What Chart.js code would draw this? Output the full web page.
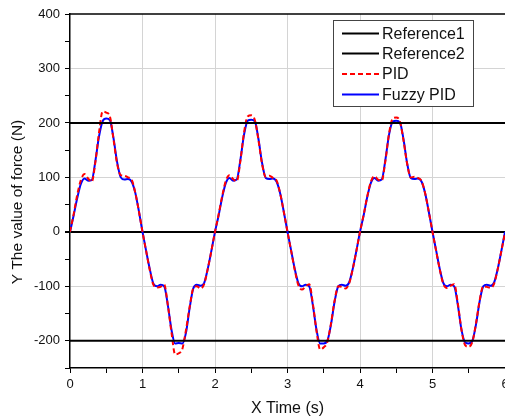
<!DOCTYPE html>
<html>
<head>
<meta charset="utf-8">
<script src="https://cdn.jsdelivr.net/npm/chart.js@4/dist/chart.umd.min.js"></script>
<style>
  html, body { margin: 0; padding: 0; background: #fff; }
  #wrap { width: 505px; height: 418px; position: relative; }
</style>
</head>
<body>
<div id="wrap"><canvas id="chart"></canvas></div>
<script>
// Tiempo (s), paso de 0.05
const times = [];
for (let i = 0; i <= 120; i++) times.push(+(i * 0.05).toFixed(2));

// Lineas de referencia
const reference1 = 200;
const reference2 = -200;

// PID (rojo, discontinua)
const pidValues = [
  0, 32, 68, 95, 106, 98, 92, 128, 182, 221, 219, 212, 170, 125, 104, 103, 100, 96, 72, 38,
  0, -35, -70, -97, -102, -101, -97, -135, -185, -225, -223, -215, -180, -138, -104, -100, -104, -96, -68, -35,
  0, 32, 66, 94, 104, 97, 93, 130, 182, 212, 214, 205, 168, 124, 101, 103, 99, 94, 70, 36,
  0, -35, -70, -98, -106, -100, -96, -132, -182, -216, -212, -202, -168, -126, -100, -101, -104, -95, -68, -35,
  0, 31, 65, 92, 102, 96, 94, 130, 180, 208, 210, 203, 168, 125, 100, 101, 99, 93, 70, 36,
  0, -35, -69, -96, -103, -99, -96, -132, -180, -208, -211, -202, -168, -126, -100, -101, -103, -95, -68, -35,
  -2
];

// Fuzzy PID (azul)
const fuzzyValues = [
  0, 30, 62, 88, 98, 94, 95, 130, 175, 203, 208, 205, 172, 128, 100, 96, 97, 92, 72, 38,
  0, -35, -68, -95, -100, -97, -100, -135, -180, -205, -204, -205, -185, -140, -104, -97, -99, -94, -68, -35,
  0, 30, 64, 90, 99, 94, 96, 132, 178, 204, 206, 203, 170, 126, 99, 97, 98, 92, 70, 36,
  0, -34, -68, -94, -100, -97, -100, -135, -180, -205, -205, -200, -170, -128, -100, -97, -99, -93, -68, -35,
  0, 30, 64, 90, 99, 94, 96, 132, 178, 202, 204, 201, 170, 126, 99, 97, 98, 92, 70, 36,
  0, -34, -68, -94, -100, -97, -100, -135, -180, -203, -205, -200, -170, -128, -100, -97, -99, -93, -68, -35,
  0
];

const seriesLabels = ['Reference1', 'Reference2', 'PID', 'Fuzzy PID'];
const yTitle = 'Y The value of force (N)';

const FONT = '"Liberation Sans", Arial, sans-serif';

function toPoints(vals) {
  return times.map((t, i) => ({ x: t, y: vals[i] }));
}

// Marco superior, titulo Y y leyenda dentro del area
const framePlugin = {
  id: 'frame',
  afterDatasetsDraw(chart) {
    const { ctx, chartArea } = chart;
    ctx.save();
    ctx.strokeStyle = '#000';
    ctx.lineWidth = 1.5;
    ctx.beginPath();
    ctx.moveTo(chartArea.left, chartArea.top);
    ctx.lineTo(chartArea.right, chartArea.top);
    ctx.stroke();

    // titulo del eje Y
    ctx.save();
    ctx.translate(18, 202);
    ctx.rotate(-Math.PI / 2);
    ctx.fillStyle = '#111';
    ctx.font = '15.5px ' + FONT;
    ctx.textAlign = 'center';
    ctx.textBaseline = 'middle';
    ctx.fillText(yTitle, 0, 0);
    ctx.restore();

    // leyenda
    const bx = 333.5, by = 20.5, bw = 140, bh = 86;
    ctx.fillStyle = '#fff';
    ctx.fillRect(bx, by, bw, bh);
    ctx.strokeStyle = '#444';
    ctx.lineWidth = 1;
    ctx.strokeRect(bx, by, bw, bh);
    const rows = [33.5, 53.5, 74, 94.5];
    chart.data.datasets.forEach((ds, i) => {
      ctx.strokeStyle = ds.borderColor;
      ctx.lineWidth = ds.borderWidth;
      ctx.setLineDash(ds.borderDash || []);
      ctx.beginPath();
      ctx.moveTo(342, rows[i]);
      ctx.lineTo(379, rows[i]);
      ctx.stroke();
      ctx.setLineDash([]);
      ctx.fillStyle = '#111';
      ctx.font = '16px ' + FONT;
      ctx.textBaseline = 'middle';
      ctx.textAlign = 'left';
      ctx.fillText(ds.label, 382, rows[i] + 1);
    });
    ctx.restore();
  }
};

const ctx = document.getElementById('chart');
new Chart(ctx, {
  type: 'line',
  data: {
    datasets: [
      {
        label: seriesLabels[0],
        data: [{ x: 0, y: reference1 }, { x: 6, y: reference1 }],
        borderColor: '#000',
        borderWidth: 2,
        pointRadius: 0
      },
      {
        label: seriesLabels[1],
        data: [{ x: 0, y: reference2 }, { x: 6, y: reference2 }],
        borderColor: '#000',
        borderWidth: 2,
        pointRadius: 0
      },
      {
        label: seriesLabels[2],
        data: toPoints(pidValues),
        borderColor: '#ff0000',
        borderWidth: 2,
        borderDash: [5, 3],
        pointRadius: 0,
        cubicInterpolationMode: 'monotone'
      },
      {
        label: seriesLabels[3],
        data: toPoints(fuzzyValues),
        borderColor: '#0000ff',
        borderWidth: 2,
        pointRadius: 0,
        cubicInterpolationMode: 'monotone'
      }
    ]
  },
  options: {
    responsive: true,
    maintainAspectRatio: false,
    animation: false,
    layout: { padding: { top: 14, right: 0, left: 0, bottom: 0 } },
    plugins: {
      legend: { display: false },
      tooltip: { enabled: false }
    },
    scales: {
      x: {
        type: 'linear',
        min: 0,
        max: 6,
        afterFit: (s) => { s.height = 50; s.paddingRight = 0; s.paddingLeft = 0; },
        ticks: {
          stepSize: 0.5,
          autoSkip: false,
          maxRotation: 0,
          color: '#111',
          font: { family: FONT, size: 13 },
          padding: 4,
          callback: (v) => (Number.isInteger(v) ? String(v) : '')
        },
        grid: {
          color: (c) => (c.tick && Number.isInteger(c.tick.value) && c.tick.value > 0 ? '#d4d4d4' : 'rgba(0,0,0,0)'),
          lineWidth: 1,
          tickColor: '#000',
          tickLength: 5,
          drawTicks: true
        },
        border: { color: '#000', width: 1.5 },
        title: {
          display: true,
          text: 'X Time (s)',
          color: '#111',
          font: { family: FONT, size: 16 },
          padding: { top: 2, bottom: 0 }
        }
      },
      y: {
        min: -250,
        max: 400,
        afterFit: (s) => { s.width = 70; },
        ticks: {
          stepSize: 50,
          autoSkip: false,
          color: '#111',
          font: { family: FONT, size: 13 },
          padding: 5,
          callback: (v) => (v % 100 === 0 ? String(v) : '')
        },
        grid: {
          color: (c) => {
            if (!c.tick) return 'rgba(0,0,0,0)';
            const v = c.tick.value;
            if (v === 0) return '#000';
            if (v % 100 === 0 && v !== 400) return '#d4d4d4';
            return 'rgba(0,0,0,0)';
          },
          lineWidth: (c) => (c.tick && c.tick.value === 0 ? 2 : 1),
          tickColor: '#000',
          tickLength: 5,
          drawTicks: true
        },
        border: { color: '#000', width: 1.5 },
        title: { display: false }
      }
    }
  },
  plugins: [framePlugin]
});
</script>
</body>
</html>
